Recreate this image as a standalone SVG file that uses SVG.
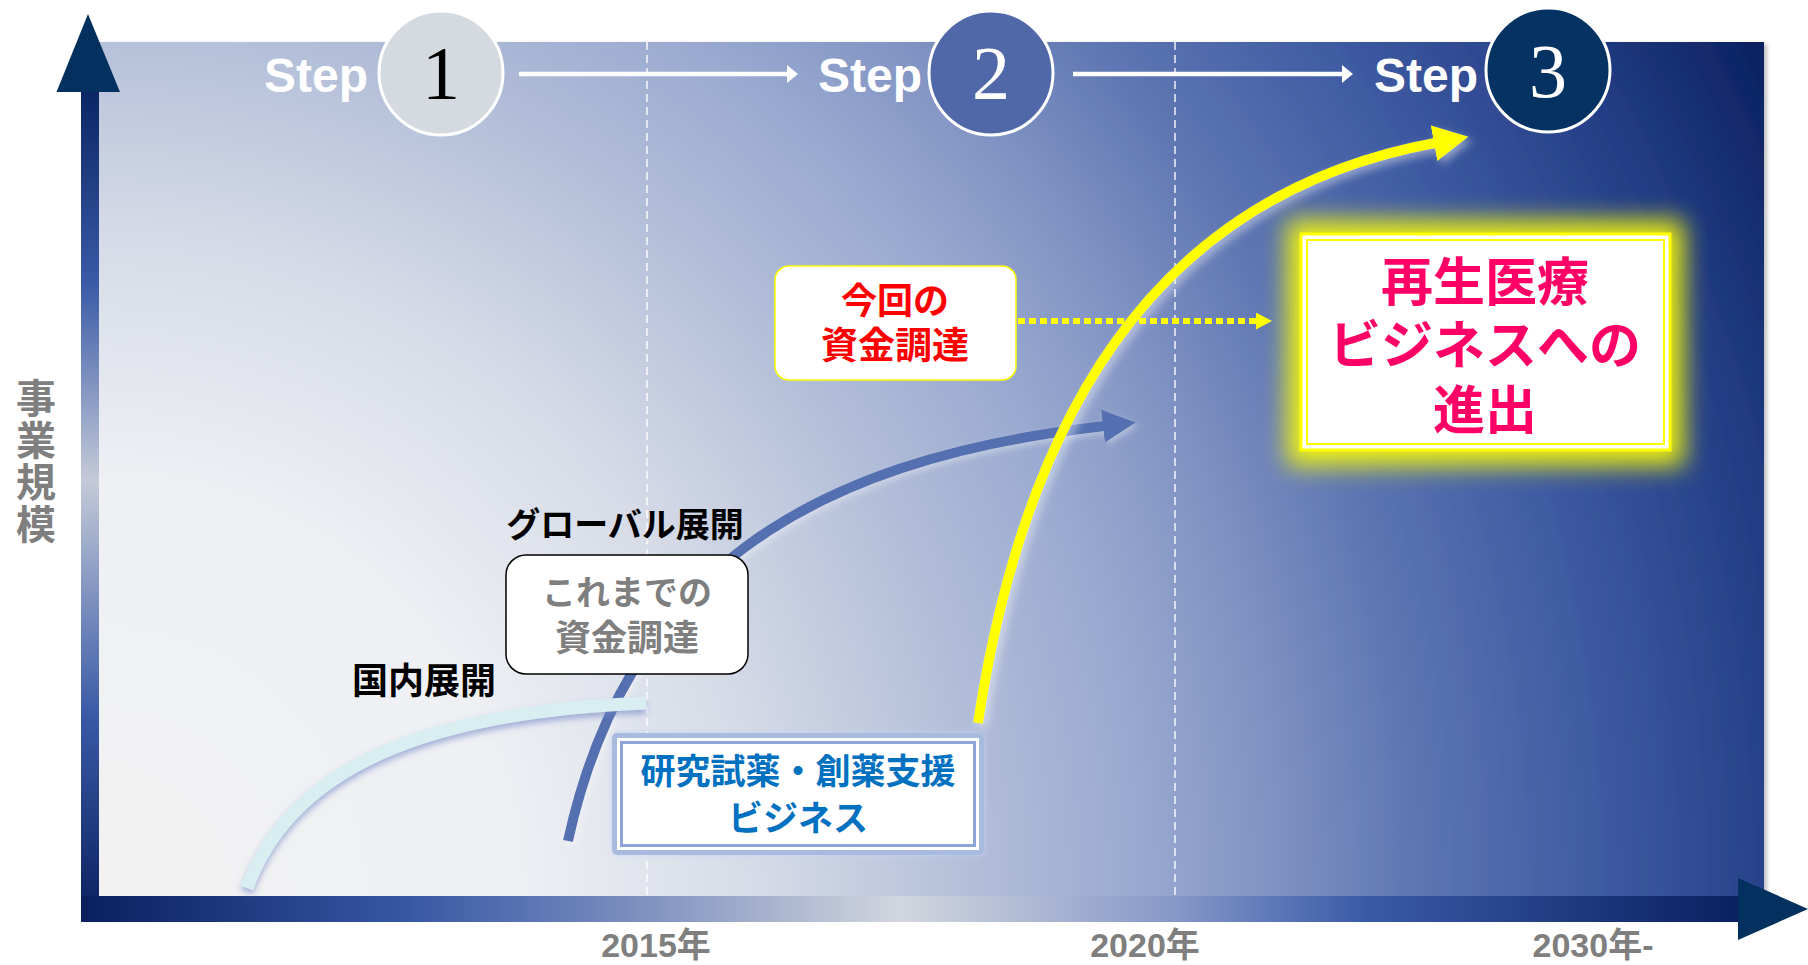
<svg xmlns="http://www.w3.org/2000/svg" width="1808" height="965" viewBox="0 0 1808 965">
<defs>
<style>
.jp{font-family:"Noto Sans CJK JP","Noto Sans",sans-serif;font-weight:700;}
.step{font-family:"Liberation Sans",Arial,sans-serif;font-weight:700;font-size:48px;fill:#ffffff;text-anchor:end;}
.num{font-family:"Liberation Serif","Times New Roman",serif;font-size:76px;text-anchor:middle;}
.year{font-family:"Liberation Sans","Noto Sans CJK JP",sans-serif;font-weight:700;font-size:34px;fill:#7f7f7f;text-anchor:middle;}
.dash{stroke:#ffffff;stroke-width:1.5;stroke-dasharray:8 5;opacity:0.9;}
</style>
<radialGradient id="bg" gradientUnits="userSpaceOnUse" cx="99" cy="896" r="1880">
<stop offset="0" stop-color="#f2f2f2"/>
<stop offset="0.22" stop-color="#eef0f4"/>
<stop offset="0.35" stop-color="#d6dbe7"/>
<stop offset="0.46" stop-color="#b4bfd9"/>
<stop offset="0.55" stop-color="#9aaad0"/>
<stop offset="0.62" stop-color="#8294c4"/>
<stop offset="0.70" stop-color="#5e76b2"/>
<stop offset="0.80" stop-color="#3e5aa2"/>
<stop offset="0.90" stop-color="#243e86"/>
<stop offset="1" stop-color="#0a1f5e"/>
</radialGradient>
<linearGradient id="yaxis" gradientUnits="userSpaceOnUse" x1="0" y1="90" x2="0" y2="922">
<stop offset="0" stop-color="#0b2564"/>
<stop offset="0.232" stop-color="#3a5aa6"/>
<stop offset="0.469" stop-color="#c4cad8"/>
<stop offset="0.751" stop-color="#3a5aa6"/>
<stop offset="1" stop-color="#0a1f5e"/>
</linearGradient>
<linearGradient id="xaxis" gradientUnits="userSpaceOnUse" x1="81" y1="0" x2="1740" y2="0">
<stop offset="0" stop-color="#0a1f5e"/>
<stop offset="0.194" stop-color="#3656a4"/>
<stop offset="0.30" stop-color="#6a80b8"/>
<stop offset="0.494" stop-color="#d2d6de"/>
<stop offset="0.659" stop-color="#8698c8"/>
<stop offset="0.774" stop-color="#3a5aa8"/>
<stop offset="1" stop-color="#0a2060"/>
</linearGradient>
<filter id="panelShadow" x="-5%" y="-5%" width="110%" height="110%">
<feDropShadow dx="3" dy="2" stdDeviation="2" flood-color="#000000" flood-opacity="0.25"/>
</filter>
<filter id="glow" x="-30%" y="-30%" width="160%" height="160%">
<feGaussianBlur stdDeviation="12"/>
</filter>
<filter id="lightShadow" x="-20%" y="-20%" width="140%" height="140%">
<feDropShadow dx="0" dy="4" stdDeviation="3" flood-color="#6f82c4" flood-opacity="0.6"/>
</filter>
<filter id="yellowShadow" x="-20%" y="-20%" width="140%" height="140%">
<feDropShadow dx="4" dy="4" stdDeviation="4" flood-color="#ffffff" flood-opacity="0.45"/>
</filter>
<filter id="blueShadow" x="-20%" y="-20%" width="140%" height="140%">
<feDropShadow dx="3" dy="3" stdDeviation="3" flood-color="#ffffff" flood-opacity="0.35"/>
</filter>
<filter id="boxGlow" x="-10%" y="-10%" width="120%" height="120%">
<feDropShadow dx="0" dy="0" stdDeviation="3" flood-color="#c8d4f4" flood-opacity="0.8"/>
</filter>
<marker id="ahWhite" markerUnits="userSpaceOnUse" markerWidth="12" markerHeight="18" refX="0" refY="9" orient="auto">
<path d="M0,0 L11,9 L0,18 z" fill="#ffffff"/>
</marker>
<marker id="ahBlue" markerUnits="userSpaceOnUse" markerWidth="34" markerHeight="34" refX="2" refY="16.5" orient="auto">
<path d="M0,0 L33,16.5 L0,33 z" fill="#5470b0"/>
</marker>
<marker id="ahYellow" markerUnits="userSpaceOnUse" markerWidth="36" markerHeight="38" refX="1" refY="18" orient="auto">
<path d="M0,0 L35,18 L0,36 z" fill="#ffff00"/>
</marker>
<marker id="ahDot" markerUnits="userSpaceOnUse" markerWidth="17" markerHeight="18" refX="0" refY="8.5" orient="auto">
<path d="M0,0 L16,8.5 L0,17 z" fill="#ffff00"/>
</marker>
</defs>

<g id="background">
<rect x="99" y="42" width="1665" height="854" fill="url(#bg)" filter="url(#panelShadow)"/>
<line class="dash" x1="647" y1="42" x2="647" y2="896"/>
<line class="dash" x1="1175" y1="42" x2="1175" y2="896"/>
</g>

<g id="axes">
<rect x="81" y="90" width="18" height="808" fill="url(#yaxis)"/>
<polygon points="88,14 56.5,92 120,92" fill="#02315f"/>
<rect x="81" y="896" width="1659" height="26" fill="url(#xaxis)"/>
<polygon points="1738,878 1808,909 1738,940" fill="#02315f"/>
<text class="jp" x="36" y="378" font-size="40" fill="#7f7f7f" writing-mode="tb" letter-spacing="2">事業規模</text>
<text class="year" x="656" y="957">2015年</text>
<text class="year" x="1145" y="957">2020年</text>
<text class="year" x="1593" y="957">2030年-</text>
</g>

<g id="connectors">
<line x1="519" y1="74" x2="787" y2="74" stroke="#ffffff" stroke-width="4.5" marker-end="url(#ahWhite)"/>
<line x1="1073" y1="74" x2="1342" y2="74" stroke="#ffffff" stroke-width="4.5" marker-end="url(#ahWhite)"/>
<path d="M568,841 C625,580 800,460 1105,426" fill="none" stroke="#5470b0" stroke-width="10" filter="url(#blueShadow)" marker-end="url(#ahBlue)"/>
<path d="M247,888 C290,770 420,712 646,703" fill="none" stroke="#d9eef1" stroke-width="13" filter="url(#lightShadow)"/>
<path d="M978,723 C1030,380 1180,190 1435,143" fill="none" stroke="#ffff00" stroke-width="10" filter="url(#yellowShadow)" marker-end="url(#ahYellow)"/>
<line x1="1018" y1="321" x2="1256" y2="321" stroke="#ffff00" stroke-width="6" stroke-dasharray="7 4" marker-end="url(#ahDot)"/>
</g>

<g id="step1">
<text class="step" x="368" y="92">Step</text>
<circle cx="441" cy="73" r="62" fill="#d4dadf" stroke="#ffffff" stroke-width="3"/>
<text class="num" x="441" y="99" fill="#000000">1</text>
</g>
<g id="step2">
<text class="step" x="922" y="92">Step</text>
<circle cx="991" cy="73" r="62" fill="#5068a8" stroke="#ffffff" stroke-width="3"/>
<text class="num" x="991" y="99" fill="#ffffff">2</text>
</g>
<g id="step3">
<text class="step" x="1478" y="92">Step</text>
<circle cx="1548" cy="70" r="62" fill="#033263" stroke="#ffffff" stroke-width="3"/>
<text class="num" x="1548" y="97" fill="#ffffff">3</text>
</g>

<g id="label-global">
<text class="jp" x="625" y="537" font-size="34" fill="#000000" text-anchor="middle">グローバル展開</text>
</g>
<g id="label-domestic">
<text class="jp" x="424" y="694" font-size="36" fill="#000000" text-anchor="middle">国内展開</text>
</g>

<g id="past-funding">
<rect x="506" y="555" width="242" height="119" rx="20" fill="#ffffff" stroke="#000000" stroke-width="1.5"/>
<text class="jp" fill="#7f7f7f" text-anchor="middle"><tspan x="627" y="605" font-size="34">これまでの</tspan><tspan x="627" y="651" font-size="36">資金調達</tspan></text>
</g>

<g id="research-business">
<rect x="612" y="733" width="372" height="122" rx="5" fill="#a9badf" filter="url(#boxGlow)"/>
<rect x="617" y="738" width="362" height="112" fill="#ffffff"/>
<rect x="621.5" y="742.5" width="353" height="103" fill="#ffffff" stroke="#8fa5d8" stroke-width="3"/>
<text class="jp" font-size="35" fill="#0070c0" text-anchor="middle"><tspan x="798" y="784">研究試薬・創薬支援</tspan><tspan x="798" y="831">ビジネス</tspan></text>
</g>

<g id="current-funding">
<rect x="775" y="266" width="241" height="114" rx="14" fill="#ffffff" stroke="#ffff00" stroke-width="1.5"/>
<text class="jp" fill="#ff0000" text-anchor="middle"><tspan x="895" y="314" font-size="36">今回の</tspan><tspan x="895" y="359" font-size="37">資金調達</tspan></text>
</g>

<g id="regenerative-medicine">
<rect x="1287" y="220" width="397" height="246" fill="#ffff00" opacity="0.9" filter="url(#glow)"/>
<rect x="1301" y="234" width="369" height="216" fill="#ffffff" stroke="#ffff00" stroke-width="3"/>
<rect x="1307" y="240" width="357" height="204" fill="none" stroke="#ffff00" stroke-width="2"/>
<text class="jp" font-size="52" fill="#ff0066" text-anchor="middle"><tspan x="1485" y="301">再生医療</tspan><tspan x="1485" y="364">ビジネスへの</tspan><tspan x="1485" y="429">進出</tspan></text>
</g>
</svg>
